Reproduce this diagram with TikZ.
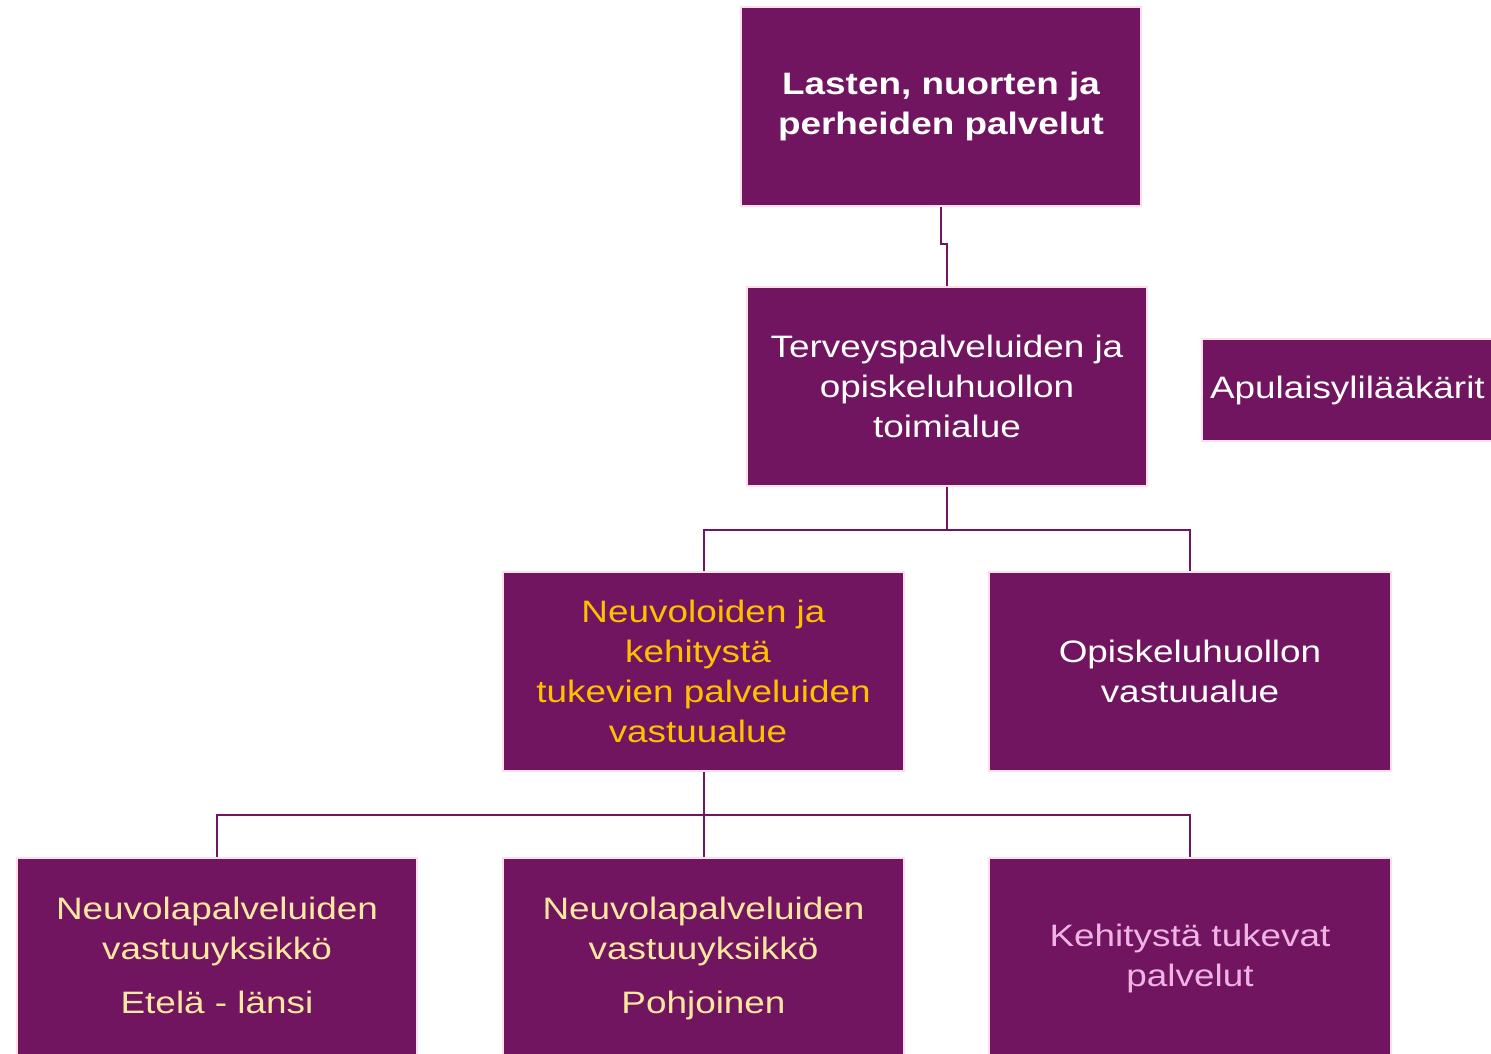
\documentclass[tikz,border=0pt]{standalone}
\usepackage{fontspec}
\setmainfont{Liberation Sans}[FakeStretch=1.19]
\definecolor{boxpurple}{RGB}{113,21,96}
\definecolor{boxedge}{RGB}{255,222,232}
\definecolor{gold}{RGB}{255,192,0}
\definecolor{paleyellow}{RGB}{255,232,160}
\definecolor{softpink}{RGB}{240,180,228}
\tikzset{
  orgbox/.style={draw=boxedge, line width=2pt, fill=boxpurple, minimum width=400pt,
    minimum height=199pt, align=center, inner sep=0pt,
    font=\fontsize{31pt}{40pt}\selectfont},
  link/.style={draw=boxpurple, line width=2pt}
}
\begin{document}
\begin{tikzpicture}[x=1pt,y=1pt]
\useasboundingbox (0,0) rectangle (1491,-1054);
\begin{scope}
\clip (0,0) rectangle (1491,-1054);
\node[orgbox, text=white, font=\bfseries\fontsize{31pt}{40pt}\selectfont] (top) at (941,-106.5)
  {Lasten, nuorten ja\\perheiden palvelut};
\node[orgbox, text=white] (mid) at (947,-386) {Terveyspalveluiden ja\\opiskeluhuollon\\toimialue};
\node[orgbox, text=white, minimum width=300pt, minimum height=102pt, anchor=west] (apu) at (1201,-390) {\hspace*{8pt}Apulaisylilääkärit\hspace*{100pt}};
\node[orgbox, text=gold, minimum width=401pt] (neuv) at (703.5,-671.5) {Neuvoloiden ja\\kehitystä\mbox{\hspace{11pt}}\\tukevien palveluiden\\vastuualue\mbox{\hspace{11pt}}};
\node[orgbox, text=white, minimum width=402pt] (opis) at (1190,-671.5) {Opiskeluhuollon\\vastuualue};
\node[orgbox, text=paleyellow, anchor=north, minimum height=200pt] (b1) at (217,-857) {Neuvolapalveluiden\\vastuuyksikkö\\[14pt]Etelä - länsi\vphantom{j}};
\node[orgbox, text=paleyellow, anchor=north, minimum height=200pt, minimum width=401pt] (b2) at (703.5,-857) {Neuvolapalveluiden\\vastuuyksikkö\\[14pt]Pohjoinen};
\node[orgbox, text=softpink, anchor=north, minimum height=200pt, minimum width=402pt] (b3) at (1190,-857) {Kehitystä tukevat\\palvelut};
\end{scope}
\draw[link] (top.south) -- ++(0,-37) -| (mid.north);
\draw[link] (mid.south) -- ++(0,-43) -| (neuv.north);
\draw[link] (mid.south) -- ++(0,-43) -| (opis.north);
\draw[link] (neuv.south) -- (b2.north);
\draw[link] (neuv.south) -- ++(0,-43) -| (b1.north);
\draw[link] (neuv.south) -- ++(0,-43) -| (b3.north);
\end{tikzpicture}
\end{document}
